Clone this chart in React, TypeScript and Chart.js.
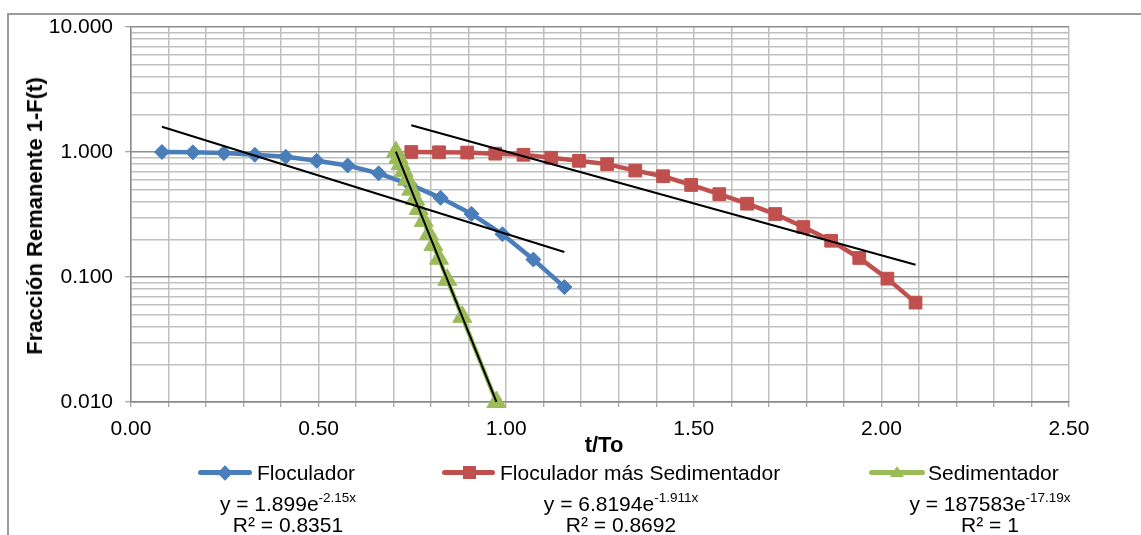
import React, { useEffect, useRef } from 'react';
import { Chart, registerables } from 'chart.js';

Chart.register(...registerables);

const FONT = '"Liberation Sans", Arial, Helvetica, sans-serif';

// Relative time t/To and remaining fraction 1-F(t) for each unit
const floculadorX = [0.0825, 0.165, 0.2475, 0.33, 0.4125, 0.495, 0.5775, 0.66, 0.7425, 0.825, 0.9075, 0.99, 1.0725, 1.155];
const floculadorY = [1.0, 0.995, 0.98, 0.95, 0.915, 0.85, 0.78, 0.675, 0.55, 0.43, 0.32, 0.22, 0.138, 0.083];

const floculadorSedX = [0.747, 0.821, 0.896, 0.971, 1.046, 1.12, 1.194, 1.269, 1.344, 1.418, 1.493, 1.568, 1.642, 1.717, 1.792, 1.866, 1.941, 2.016, 2.091];
const floculadorSedY = [1.0, 0.995, 0.99, 0.97, 0.95, 0.9, 0.85, 0.8, 0.71, 0.64, 0.545, 0.46, 0.386, 0.319, 0.251, 0.195, 0.142, 0.097, 0.0624];

const sedimentadorX = [0.706, 0.713, 0.719, 0.727, 0.736, 0.747, 0.757, 0.767, 0.78, 0.794, 0.806, 0.821, 0.843, 0.883, 0.974];
const sedimentadorY = [1.0, 0.9, 0.8, 0.7, 0.6, 0.5, 0.42, 0.35, 0.28, 0.22, 0.18, 0.14, 0.095, 0.048, 0.01];

// Exponential fits y = a·e^(b·x)
const fitFloculador = { a: 1.899, b: -2.15 };
const fitFloculadorSed = { a: 6.8194, b: -1.911 };
const fitSedimentador = { a: 187583, b: -17.19 };

const seriesNames = ['Floculador', 'Floculador más Sedimentador', 'Sedimentador'];
const seriesColors = ['#4A7EBB', '#C0504D', '#9BBB59'];

// Axis ticks
const xTickValues = Array.from({ length: 26 }, (_, i) => Math.round(i * 10) / 100);
const yDecades = [0.01, 0.1, 1];
const yTickValues = [
  ...yDecades.flatMap((d) => [1, 2, 3, 4, 5, 6, 7, 8, 9].map((m) => Number((m * d).toPrecision(3)))),
  10,
];

const toPoints = (xs: number[], ys: number[]) => xs.map((x, i) => ({ x, y: ys[i] }));
const fitLine = (xs: number[], fit: { a: number; b: number }) => {
  const x0 = xs[0];
  const x1 = xs[xs.length - 1];
  return [x0, x1].map((x) => ({ x, y: fit.a * Math.exp(fit.b * x) }));
};
const isDecade = (v: number) => Math.abs(Math.log10(v) - Math.round(Math.log10(v))) < 1e-9;

export default function App() {
  const canvasRef = useRef<HTMLCanvasElement>(null);

  useEffect(() => {
    if (!canvasRef.current) return;
    Chart.defaults.font.family = FONT;

    const trend = (data: { x: number; y: number }[]) => ({
      label: '',
      data,
      borderColor: '#000000',
      borderWidth: 2,
      pointRadius: 0,
      fill: false,
      tension: 0,
      order: 0,
      clip: false as const,
    });

    const chart = new Chart(canvasRef.current, {
      type: 'line',
      data: {
        datasets: [
          {
            label: seriesNames[0],
            data: toPoints(floculadorX, floculadorY),
            borderColor: seriesColors[0],
            backgroundColor: seriesColors[0],
            borderWidth: 4.5,
            pointStyle: 'rectRot',
            pointRadius: 7.5,
            pointBorderWidth: 1,
            tension: 0,
            order: 3,
            clip: false,
          },
          {
            label: seriesNames[1],
            data: toPoints(floculadorSedX, floculadorSedY),
            borderColor: seriesColors[1],
            backgroundColor: seriesColors[1],
            borderWidth: 4.5,
            pointStyle: 'rect',
            pointRadius: 9,
            pointBorderWidth: 1,
            tension: 0,
            order: 2,
            clip: false,
          },
          {
            label: seriesNames[2],
            data: toPoints(sedimentadorX, sedimentadorY),
            borderColor: seriesColors[2],
            backgroundColor: seriesColors[2],
            borderWidth: 4.5,
            pointStyle: 'triangle',
            pointRadius: 11,
            pointBorderWidth: 1,
            tension: 0,
            order: 1,
            clip: false,
          },
          trend(fitLine(floculadorX, fitFloculador)),
          trend(fitLine(floculadorSedX, fitFloculadorSed)),
          trend(fitLine(sedimentadorX, fitSedimentador)),
        ],
      },
      options: {
        animation: false,
        responsive: false,
        devicePixelRatio: 1,
        layout: { padding: { left: 0, top: 27, right: 72, bottom: 0 } },
        plugins: {
          legend: { display: false },
          tooltip: { enabled: false },
          title: { display: false },
        },
        scales: {
          x: {
            type: 'linear',
            min: 0,
            max: 2.5,
            afterBuildTicks: (scale: any) => {
              scale.ticks = xTickValues.map((value) => ({ value }));
            },
            afterFit: (scale: any) => {
              scale.height = 133;
            },
            ticks: {
              autoSkip: false,
              maxRotation: 0,
              padding: 10,
              color: '#000000',
              font: { size: 21, family: FONT },
              callback: (v: any) => {
                const n = Number(v);
                return Math.abs(n * 2 - Math.round(n * 2)) < 1e-9 ? n.toFixed(2) : '';
              },
            },
            grid: {
              color: '#c0c0c0',
              lineWidth: 1.5,
              tickLength: 5,
              tickColor: '#8a8a8a',
              tickWidth: 1,
            },
            border: { display: true, color: '#8a8a8a', width: 1.5 },
          },
          y: {
            type: 'logarithmic',
            min: 0.01,
            max: 10,
            afterBuildTicks: (scale: any) => {
              scale.ticks = yTickValues.map((value) => ({ value }));
            },
            afterFit: (scale: any) => {
              scale.width = 131;
            },
            ticks: {
              autoSkip: false,
              padding: 12,
              color: '#000000',
              font: { size: 21, family: FONT },
              callback: (v: any) => {
                const n = Number(v);
                return isDecade(n) ? n.toFixed(3) : '';
              },
            },
            grid: {
              color: (ctx: any) => (ctx.tick && isDecade(ctx.tick.value) ? '#8e8e8e' : '#c0c0c0'),
              lineWidth: 1.5,
              tickLength: 6,
              tickColor: (ctx: any) => (ctx.tick && isDecade(ctx.tick.value) ? '#8a8a8a' : 'rgba(0,0,0,0)'),
              tickWidth: 1,
            },
            border: { display: true, color: '#8a8a8a', width: 1.5 },
          },
        },
      },
    });

    return () => chart.destroy();
  }, []);

  const text: React.CSSProperties = {
    position: 'absolute',
    fontFamily: FONT,
    fontSize: 21,
    lineHeight: '21px',
    color: '#000',
    whiteSpace: 'nowrap',
  };

  const legendLine = (left: number, width: number, color: string): React.CSSProperties => ({
    position: 'absolute',
    left,
    top: 470,
    width,
    height: 5,
    background: color,
    borderRadius: 2.5,
  });

  const sup: React.CSSProperties = { fontSize: 13.5, verticalAlign: 'top', lineHeight: '13px', position: 'relative', top: -2 };

  const equations = [
    { cx: 288, a: '1.899', b: '-2.15x', r2: '0.8351' },
    { cx: 621, a: '6.8194', b: '-1.911x', r2: '0.8692' },
    { cx: 990, a: '187583', b: '-17.19x', r2: '1' },
  ];

  return (
    <div style={{ position: 'absolute', left: 0, top: 0, width: 1141, height: 535, overflow: 'hidden', background: '#fff' }}>
      <div
        style={{
          position: 'absolute',
          left: 7,
          top: 13,
          width: 1200,
          height: 600,
          border: '2px solid #9a9a9a',
          boxSizing: 'border-box',
        }}
      />
      <canvas ref={canvasRef} width={1141} height={535} style={{ position: 'absolute', left: 0, top: 0 }} />

      <div
        style={{
          ...text,
          fontSize: 22,
          lineHeight: '22px',
          fontWeight: 'bold',
          left: 35,
          top: 216,
          transform: 'translate(-50%, -50%) rotate(-90deg)',
        }}
      >
        Fracción Remanente 1-F(t)
      </div>
      <div style={{ ...text, fontSize: 22, lineHeight: '22px', fontWeight: 'bold', left: 604, top: 434, transform: 'translateX(-50%)' }}>
        t/To
      </div>

      {/* legend */}
      <div style={legendLine(198, 54, seriesColors[0])} />
      <div
        style={{
          position: 'absolute',
          left: 225 - 6,
          top: 472.5 - 6,
          width: 12,
          height: 12,
          background: seriesColors[0],
          transform: 'rotate(45deg) scale(0.9)',
        }}
      />
      <div style={{ ...text, left: 257, top: 462 }}>{seriesNames[0]}</div>

      <div style={legendLine(442, 53, seriesColors[1])} />
      <div
        style={{
          position: 'absolute',
          left: 469 - 6.5,
          top: 472.5 - 6.5,
          width: 13,
          height: 13,
          background: seriesColors[1],
        }}
      />
      <div style={{ ...text, left: 500, top: 462 }}>{seriesNames[1]}</div>

      <div style={legendLine(869, 56, seriesColors[2])} />
      <div
        style={{
          position: 'absolute',
          left: 897 - 7,
          top: 472.5 - 7,
          width: 0,
          height: 0,
          borderLeft: '7px solid transparent',
          borderRight: '7px solid transparent',
          borderBottom: `11px solid ${seriesColors[2]}`,
        }}
      />
      <div style={{ ...text, left: 928, top: 462 }}>{seriesNames[2]}</div>

      {/* trend equations */}
      {equations.map((eq) => (
        <React.Fragment key={eq.cx}>
          <div style={{ ...text, left: eq.cx, top: 493, transform: 'translateX(-50%)' }}>
            y = {eq.a}e<span style={sup}>{eq.b}</span>
          </div>
          <div style={{ ...text, left: eq.cx, top: 514, transform: 'translateX(-50%)' }}>R² = {eq.r2}</div>
        </React.Fragment>
      ))}
    </div>
  );
}
